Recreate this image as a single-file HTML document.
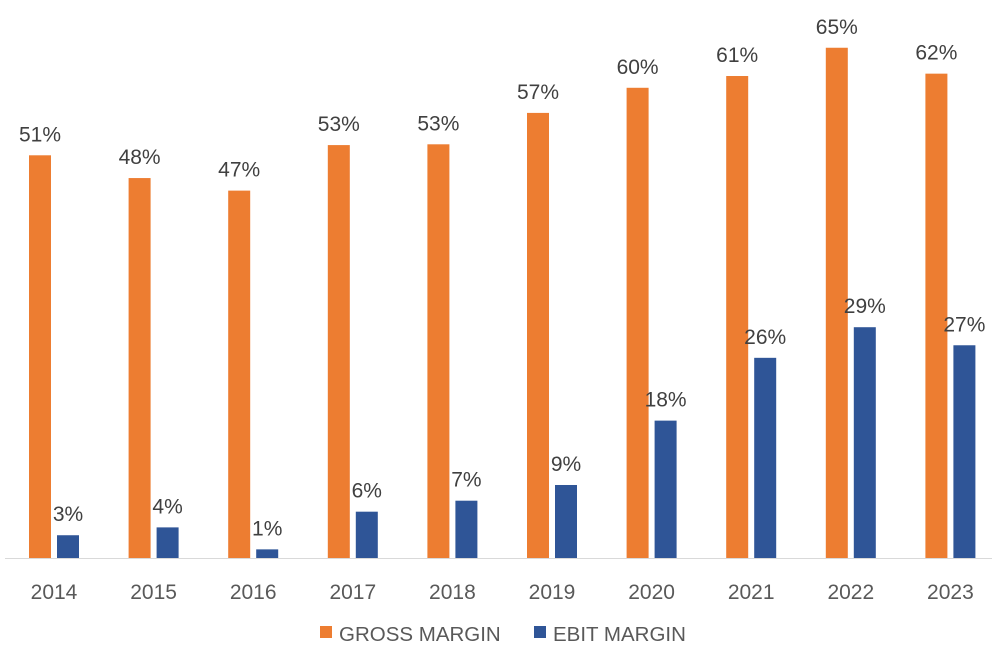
<!DOCTYPE html>
<html><head><meta charset="utf-8"><style>
html,body{margin:0;padding:0;background:#fff;}
svg{display:block;font-family:"Liberation Sans",sans-serif;}
</style></head><body>
<svg id="chart" width="997" height="652"></svg>
<script>
const categories=["2014","2015","2016","2017","2018","2019","2020","2021","2022","2023"];
const grossMargin=[51.3,48.4,46.8,52.6,52.7,56.7,59.9,61.4,65,61.7];
const ebitMargin=[2.9,3.9,1.1,5.9,7.3,9.3,17.5,25.5,29.4,27.1];
const grossLabels=["51%","48%","47%","53%","53%","57%","60%","61%","65%","62%"];
const ebitLabels=["3%","4%","1%","6%","7%","9%","18%","26%","29%","27%"];
const svg=document.getElementById('chart');
const NS='http://www.w3.org/2000/svg';
const baseY=558, pxPer=7.85, x0=54, step=99.6;
const yS=v=>baseY-v*pxPer;
const xS=i=>x0+i*step;
function mk(tag,attrs,parent){const e=document.createElementNS(NS,tag);for(const k in attrs)e.setAttribute(k,attrs[k]);(parent||svg).appendChild(e);return e;}
const axis=mk('line',{x1:5,x2:992,y1:baseY+0.5,y2:baseY+0.5,stroke:'#d9d9d9','stroke-width':1});


categories.forEach((c,i)=>{
  const cx=xS(i);
  const g=mk('rect',{x:cx-25,y:yS(grossMargin[i]),width:22,height:grossMargin[i]*pxPer,fill:'#ed7d31'});
  
  
  const b=mk('rect',{x:cx+3,y:yS(ebitMargin[i]),width:22,height:ebitMargin[i]*pxPer,fill:'#2f5597'});
  
  
  const gl=mk('text',{x:cx-14,y:yS(grossMargin[i])-14,'text-anchor':'middle','font-size':21,fill:'#404040'});
  gl.textContent=grossLabels[i];
  
  
  const bl=mk('text',{x:cx+14,y:yS(ebitMargin[i])-14,'text-anchor':'middle','font-size':21,fill:'#404040'});
  bl.textContent=ebitLabels[i];
  
  
  const t=mk('text',{x:cx,y:599,'text-anchor':'middle','font-size':21,fill:'#595959'});
  t.textContent=c;
  
  
});
const l1=mk('rect',{x:320,y:626,width:12,height:12,fill:'#ed7d31'});


const t1=mk('text',{x:339,y:641,'font-size':20.5,fill:'#595959'});
t1.textContent='GROSS MARGIN';


const l2=mk('rect',{x:534,y:626,width:12,height:12,fill:'#2f5597'});


const t2=mk('text',{x:553,y:641,'font-size':20.5,fill:'#595959'});
t2.textContent='EBIT MARGIN';


</script>
</body></html>
